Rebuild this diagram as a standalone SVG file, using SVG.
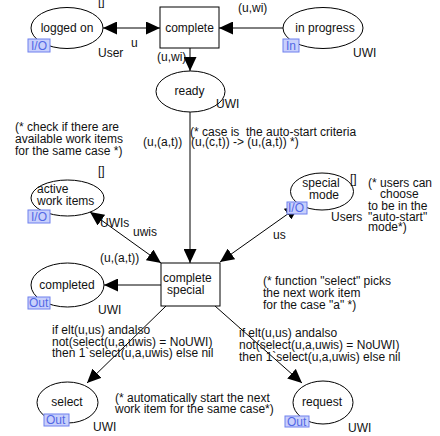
<svg xmlns="http://www.w3.org/2000/svg" width="440" height="436" viewBox="0 0 440 436">
  <style>
    text { font-family: "Liberation Sans", Arial, Helvetica, sans-serif; font-size: 12px; fill: #111; }
    .place { fill: #fff; stroke: #000; stroke-width: 1; }
    .trans { fill: #fff; stroke: #000; stroke-width: 1; }
    .mid { text-anchor: middle; }
    .tag rect { fill: #c9d0fb; stroke: #6f80ee; stroke-width: 1; }
    .tag text { fill: #5268e6; }
    .arc { fill: none; stroke: #000; stroke-width: 1; }
  </style>
  <defs>
    <marker id="head" markerUnits="userSpaceOnUse" markerWidth="14" markerHeight="13" refX="14" refY="6.5" orient="auto-start-reverse">
      <path d="M0,0 L14,6.5 L0,13 z" fill="#000"/>
    </marker>
  </defs>

  <rect width="440" height="436" fill="#fff"/>

  <!-- connectors -->
  <g id="connectors">
    <line class="arc" x1="103" y1="28" x2="160" y2="28" marker-start="url(#head)" marker-end="url(#head)"/>
    <line class="arc" x1="283" y1="28" x2="219" y2="28" marker-end="url(#head)"/>
    <line class="arc" x1="190" y1="48" x2="190" y2="71" marker-end="url(#head)"/>
    <line class="arc" x1="190" y1="112" x2="190" y2="263" marker-end="url(#head)"/>
    <line class="arc" x1="90" y1="212" x2="161" y2="263" marker-start="url(#head)" marker-end="url(#head)"/>
    <line class="arc" x1="299" y1="206" x2="220" y2="262" marker-start="url(#head)" marker-end="url(#head)"/>
    <line class="arc" x1="161" y1="285" x2="104" y2="285" marker-end="url(#head)"/>
    <line class="arc" x1="166" y1="306" x2="87" y2="383" marker-end="url(#head)"/>
    <line class="arc" x1="215" y1="306" x2="302" y2="383" marker-end="url(#head)"/>
  </g>

  <!-- arc inscriptions -->
  <g id="arc-labels">
    <text x="131" y="47">u</text>
    <text x="157" y="61">(u,wi)</text>
    <text x="238" y="12">(u,wi)</text>
    <text x="143" y="146">(u,(a,t))</text>
    <text x="100" y="227">UWIs</text>
    <text x="133" y="236">uwis</text>
    <text x="100" y="262">(u,(a,t))</text>
    <text x="273" y="239">us</text>
    <text x="52" y="334">if elt(u,us) andalso</text>
    <text x="52" y="345.5">not(select(u,a,uwis) = NoUWI)</text>
    <text x="52" y="357">then 1`select(u,a,uwis) else nil</text>
    <text x="239" y="337">if elt(u,us) andalso</text>
    <text x="239" y="349">not(select(u,a,uwis) = NoUWI)</text>
    <text x="239" y="360.5">then 1`select(u,a,uwis) else nil</text>
  </g>

  <!-- comments -->
  <g id="comments">
    <text x="15" y="131">(* check if there are</text>
    <text x="15" y="143">available work items</text>
    <text x="15" y="155">for the same case *)</text>
    <text x="190" y="136" xml:space="preserve">(* case is  the auto-start criteria</text>
    <text x="191" y="146">(u,(c,t)) -&gt; (u,(a,t)) *)</text>
    <text x="368" y="187">(* users can</text>
    <text x="380" y="198">choose</text>
    <text x="368" y="210">to be in the</text>
    <text x="368" y="221">"auto-start"</text>
    <text x="368" y="231">mode*)</text>
    <text x="263" y="285">(* function "select" picks</text>
    <text x="263" y="297">the next work item</text>
    <text x="263" y="309">for the case "a" *)</text>
    <text x="115" y="402">(* automatically start the next</text>
    <text x="115" y="413">work item for the same case*)</text>
  </g>

  <!-- places -->
  <g id="logged-on">
    <ellipse class="place" cx="67" cy="28" rx="36" ry="20.5"/>
    <text class="mid" x="67" y="32">logged on</text>
    <g class="tag"><rect x="28" y="39" width="22" height="13"/><text x="31" y="50">I/O</text></g>
    <text x="98" y="5">[]</text>
    <text x="98" y="57">User</text>
  </g>

  <g id="in-progress">
    <ellipse class="place" cx="323" cy="28" rx="40" ry="20.5"/>
    <text class="mid" x="325" y="32">in progress</text>
    <g class="tag"><rect x="283" y="39" width="16" height="13"/><text x="286" y="50">In</text></g>
    <text x="353" y="57">UWI</text>
  </g>

  <g id="ready">
    <ellipse class="place" cx="190.5" cy="91.5" rx="34.5" ry="20.5"/>
    <text class="mid" x="189.5" y="95">ready</text>
    <text x="216" y="108">UWI</text>
  </g>

  <g id="active-work-items">
    <ellipse class="place" cx="67.5" cy="198" rx="36.5" ry="18"/>
    <text x="37" y="193">active</text>
    <text x="37" y="205">work items</text>
    <g class="tag"><rect x="28" y="210" width="22" height="13"/><text x="31" y="221">I/O</text></g>
    <text x="98" y="175">[]</text>
  </g>

  <g id="special-mode">
    <ellipse class="place" cx="322" cy="191.5" rx="31.5" ry="18.5"/>
    <text class="mid" x="321" y="187">special</text>
    <text class="mid" x="324" y="199">mode</text>
    <g class="tag"><rect x="287" y="202" width="20" height="12"/><text x="288" y="212">I/O</text></g>
    <text x="350" y="183">[]</text>
    <text x="331" y="221">Users</text>
  </g>

  <g id="completed">
    <ellipse class="place" cx="67.5" cy="285" rx="36.5" ry="22"/>
    <text class="mid" x="67" y="289">completed</text>
    <g class="tag"><rect x="28" y="297" width="22" height="12"/><text x="29" y="307">Out</text></g>
    <text x="98" y="314">UWI</text>
  </g>

  <g id="select">
    <ellipse class="place" cx="67.5" cy="402.5" rx="30.5" ry="20.5"/>
    <text class="mid" x="67" y="406">select</text>
    <g class="tag"><rect x="44" y="414" width="25" height="12"/><text x="46" y="424">Out</text></g>
    <text x="93" y="431">UWI</text>
  </g>

  <g id="request">
    <ellipse class="place" cx="323" cy="402.5" rx="30" ry="21.5"/>
    <text class="mid" x="322" y="406">request</text>
    <g class="tag"><rect x="285" y="416" width="24" height="11"/><text x="287" y="426">Out</text></g>
    <text x="348" y="432">UWI</text>
  </g>

  <!-- transitions -->
  <g id="complete">
    <rect class="trans" x="160" y="7" width="59" height="41"/>
    <text class="mid" x="189.5" y="32">complete</text>
  </g>

  <g id="complete-special">
    <rect class="trans" x="161" y="263" width="59" height="43"/>
    <text x="163" y="282">complete</text>
    <text x="167" y="294">special</text>
  </g>
</svg>
